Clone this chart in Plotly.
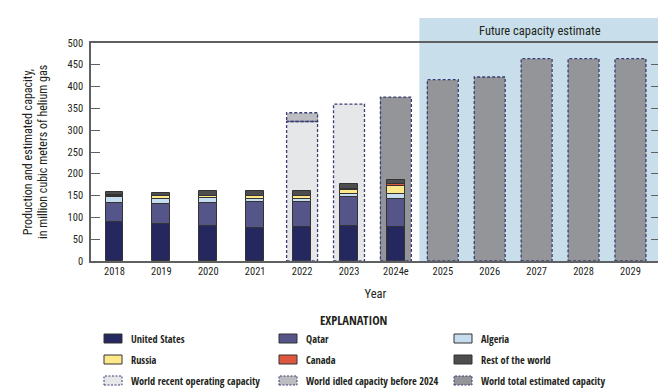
import plotly.graph_objects as go

# ---------------- data (million cubic meters of helium gas) ----------------
years = ["2018", "2019", "2020", "2021", "2022", "2023", "2024e",
         "2025", "2026", "2027", "2028", "2029"]

prod_years = ["2018", "2019", "2020", "2021", "2022", "2023", "2024e"]
united_states = [90, 85, 81, 75, 77, 81, 79]
qatar = [44, 45, 51, 60, 58, 66, 64]
algeria = [13, 13, 12, 8, 7, 7, 11.5]
russia = [3, 5, 5, 6, 7, 8, 17.5]
canada = [0.5, 0.5, 0.5, 0.5, 0.5, 3, 4]
rest_of_world = [8, 8, 10, 11, 10, 11, 9]

operating_years = ["2022", "2023"]
operating_capacity = [320, 360]

idled_years = ["2022"]
idled_capacity = [20]

total_years = ["2024e", "2025", "2026", "2027", "2028", "2029"]
total_capacity = [376, 416, 422, 464, 464, 464]

future_first_year = "2025"
y_ticks = [0, 50, 100, 150, 200, 250, 300, 350, 400, 450, 500]

# ---------------- styling ----------------
TXT = "#231f20"
AX = "#5f6062"
DASH = "#3b3f73"
OUTLINE = "#333333"
PROD_W = 0.38
CAP_W = 0.66
F_REG = "Roboto Condensed, DejaVu Sans Condensed, sans-serif"
F_BOLD = "Open Sans Condensed, DejaVu Sans Condensed, sans-serif"

# page has an 8px body margin, so the figure is 8px smaller than the window
W, H = 658, 384
ML, MR, MT, MB = 83, 6, 35, 131
PW, PH = W - ML - MR, H - MT - MB


def paper_x(win_x):
    return (win_x - 8 - ML) / PW


def paper_y(win_y):
    return (H - MB - (win_y - 8)) / PH


idx = {y: i for i, y in enumerate(years)}

fig = go.Figure()

capacity_defs = [
    ("World recent operating capacity", operating_years, operating_capacity,
     [0] * len(operating_years), "#e6e7e8"),
    ("World idled capacity before 2024", idled_years, idled_capacity,
     [operating_capacity[operating_years.index(y)] for y in idled_years], "#bcbdc0"),
    ("World total estimated capacity", total_years, total_capacity,
     [0] * len(total_years), "#939598"),
]
for name, ys, vals, bases, color in capacity_defs:
    fig.add_trace(go.Bar(
        x=[idx[y] for y in ys], y=vals, base=bases, width=CAP_W, name=name,
        marker=dict(color=color, line=dict(width=0))))

series = [
    ("United States", united_states, "#24285e"),
    ("Qatar", qatar, "#55558a"),
    ("Algeria", algeria, "#c6dcef"),
    ("Russia", russia, "#fde98a"),
    ("Canada", canada, "#e0573f"),
    ("Rest of the world", rest_of_world, "#4d4d4f"),
]
base = [0.0] * len(prod_years)
for name, vals, color in series:
    fig.add_trace(go.Bar(
        x=[idx[y] for y in prod_years], y=vals, base=list(base), width=PROD_W,
        name=name, marker=dict(color=color, line=dict(color=OUTLINE, width=1))))
    base = [b + v for b, v in zip(base, vals)]

shapes = []
x_max = len(years) - 0.5 + 0.13
shapes.append(dict(type="rect", xref="x", yref="paper",
                   x0=idx[future_first_year] - 0.5, x1=x_max, y0=0, y1=paper_y(18),
                   fillcolor="#c8dfeb", line=dict(width=0), layer="below"))

# dashed outlines of capacity bars
for name, ys, vals, bases, color in capacity_defs:
    for y, v, b in zip(ys, vals, bases):
        shapes.append(dict(type="rect", xref="x", yref="y",
                           x0=idx[y] - CAP_W / 2, x1=idx[y] + CAP_W / 2, y0=b, y1=b + v,
                           line=dict(color=DASH, width=1.3, dash="3px,2px"),
                           fillcolor="rgba(0,0,0,0)", layer="above"))

annotations = [
    dict(text="Future capacity estimate", xref="x", yref="paper",
         x=(idx[future_first_year] - 0.5 + x_max) / 2, y=paper_y(30),
         xanchor="center", yanchor="middle",
         showarrow=False, font=dict(size=12.5, color=TXT, family=F_REG)),
    dict(text="EXPLANATION", xref="paper", yref="paper", x=paper_x(354), y=paper_y(320),
         xanchor="center", yanchor="middle", showarrow=False,
         font=dict(size=12.5, color=TXT, family=F_BOLD, weight="bold")),
]

# explanation (legend) built from the series definitions
legend_entries = [(n, c, False) for n, _, c in series] + \
                 [(n, c, True) for n, _, _, _, c in capacity_defs]
col_x = [104, 279, 454]
row_y = [338.5, 359.5, 380.5]
for k, (name, color, dashed) in enumerate(legend_entries):
    cx, ry = col_x[k % 3], row_y[k // 3]
    shapes.append(dict(type="rect", xref="paper", yref="paper",
                       x0=paper_x(cx), x1=paper_x(cx + 18),
                       y0=paper_y(ry + 4.5), y1=paper_y(ry - 4.5),
                       fillcolor=color,
                       line=dict(color=DASH if dashed else OUTLINE, width=1,
                                 dash="2px,1.5px" if dashed else "solid")))
    annotations.append(dict(text=name, xref="paper", yref="paper",
                            x=paper_x(cx + 25), y=paper_y(ry), xanchor="left", yanchor="middle",
                            showarrow=False,
                            font=dict(size=10.3, color=TXT, family=F_BOLD, weight="bold")))

fig.update_layout(
    width=W, height=H,
    margin=dict(l=ML, r=MR, t=MT, b=MB, autoexpand=False),
    paper_bgcolor="white", plot_bgcolor="white",
    barmode="overlay",
    bargap=0,
    showlegend=False,
    font=dict(size=10.5, color=TXT, family=F_REG),
    shapes=shapes,
    annotations=annotations,
    xaxis=dict(range=[-0.5, x_max], tickmode="array", tickvals=list(range(len(years))),
               ticktext=years, ticks="", showline=True, linecolor=AX, linewidth=1.5,
               mirror=True, showgrid=False, zeroline=False, automargin=False,
               tickfont=dict(size=10.5, color=TXT, family=F_REG),
               title=dict(text="Year", font=dict(size=12.5, color=TXT, family=F_REG), standoff=12)),
    yaxis=dict(range=[0, 500], tickmode="array", tickvals=y_ticks,
               ticks="inside", ticklen=9, tickwidth=1.3, tickcolor=AX,
               showline=True, linecolor=AX, linewidth=1.5, mirror="ticks",
               showgrid=False, zeroline=False, automargin=False, ticklabelstandoff=4,
               tickfont=dict(size=10.5, color=TXT, family=F_REG),
               title=dict(text="Production and estimated capacity,<br>in million cubic meters of helium gas",
                          font=dict(size=12, color=TXT, family=F_REG), standoff=17)),
)

fig.write_html("out.html")
